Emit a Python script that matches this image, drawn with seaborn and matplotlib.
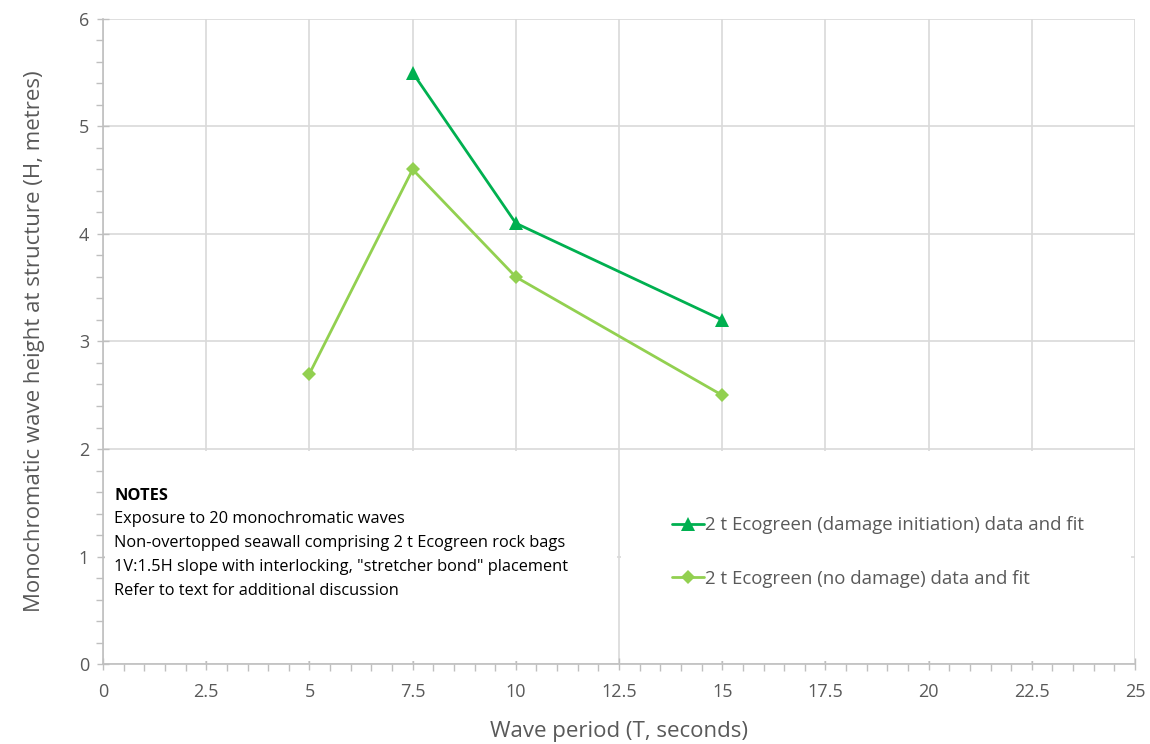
import pandas as pd
import matplotlib
matplotlib.use("Agg")
import matplotlib.pyplot as plt
from matplotlib.patches import Rectangle
from matplotlib.ticker import MultipleLocator
import seaborn as sns

# data
period_init = [7.5, 10, 15]
height_init = [5.5, 4.1, 3.2]
period_nodmg = [5, 7.5, 10, 15]
height_nodmg = [2.7, 4.6, 3.6, 2.5]

label_init = "2 t Ecogreen (damage initiation) data and fit"
label_nodmg = "2 t Ecogreen (no damage) data and fit"

notes = [
    "Exposure to 20 monochromatic waves",
    "Non-overtopped seawall comprising 2 t Ecogreen rock bags",
    '1V:1.5H slope with interlocking, "stretcher bond" placement',
    "Refer to text for additional discussion",
]

sns.set_style("white")
plt.rcParams['font.family'] = ['Open Sans', 'DejaVu Sans']

df_init = pd.DataFrame({"T": period_init, "H": height_init})
df_nodmg = pd.DataFrame({"T": period_nodmg, "H": height_nodmg})

fig = plt.figure(figsize=(11.5, 7.44), dpi=100)
ax = fig.add_axes([0.0896, 0.1075, 0.8974, 0.867])

grey = "#595959"
axis_col = "#bfbfbf"

sns.lineplot(data=df_init, x="T", y="H", ax=ax, color="#00B050", marker="^",
             markersize=10, markeredgewidth=0, linewidth=2, label=label_init, zorder=3)
sns.lineplot(data=df_nodmg, x="T", y="H", ax=ax, color="#92D050", marker="D",
             markersize=7, markeredgewidth=0, linewidth=2, label=label_nodmg, zorder=3)

ax.set_xlim(0, 25)
ax.set_ylim(0, 6)
ax.xaxis.set_major_locator(MultipleLocator(2.5))
ax.xaxis.set_minor_locator(MultipleLocator(0.5))
ax.yaxis.set_major_locator(MultipleLocator(1))
ax.yaxis.set_minor_locator(MultipleLocator(0.2))
ax.set_xticklabels([f"{v:g}" for v in ax.get_xticks()])

ax.grid(True, which="major", color="#d9d9d9", linewidth=1.2)
ax.set_axisbelow(True)

for s in ["top", "right"]:
    ax.spines[s].set_visible(False)
for s in ["left", "bottom"]:
    ax.spines[s].set_color(axis_col)
    ax.spines[s].set_linewidth(1.2)

ax.tick_params(axis="both", which="both", bottom=True, left=True)
ax.tick_params(axis="both", which="major", direction="inout", length=8, width=1,
               color=axis_col, labelsize=13, labelcolor=grey, pad=6)
ax.tick_params(axis="both", which="minor", direction="out", length=5, width=1,
               color=axis_col)
ax.tick_params(axis="x", which="major", pad=10)

ax.set_xlabel("Wave period (T, seconds)", fontsize=16, color=grey, labelpad=14)
ax.set_ylabel("Monochromatic wave height at structure (H, metres)", fontsize=16,
              color=grey, labelpad=24)

# white panels for the notes and legend (hide gridlines beneath)
ax.add_patch(Rectangle((0.05, 0.03), 12.4, 1.95, facecolor="white",
                       edgecolor="none", zorder=1))
ax.add_patch(Rectangle((12.55, 0.03), 12.35, 1.95, facecolor="white",
                       edgecolor="none", zorder=1))

ax.text(0.27, 1.53, "NOTES", fontsize=11.8, fontweight="bold", color="black", zorder=4)
for i, line in enumerate(notes):
    ax.text(0.27, 1.31 - i * 0.222, line, fontsize=11.8, color="black", zorder=4)

leg = ax.legend(loc="upper left", bbox_to_anchor=(0.535, 0.255), frameon=False,
                fontsize=13.4, handlelength=1.7, handletextpad=0.1, labelspacing=1.9)
for t in leg.get_texts():
    t.set_color(grey)

fig.savefig("out.png", dpi=100)
